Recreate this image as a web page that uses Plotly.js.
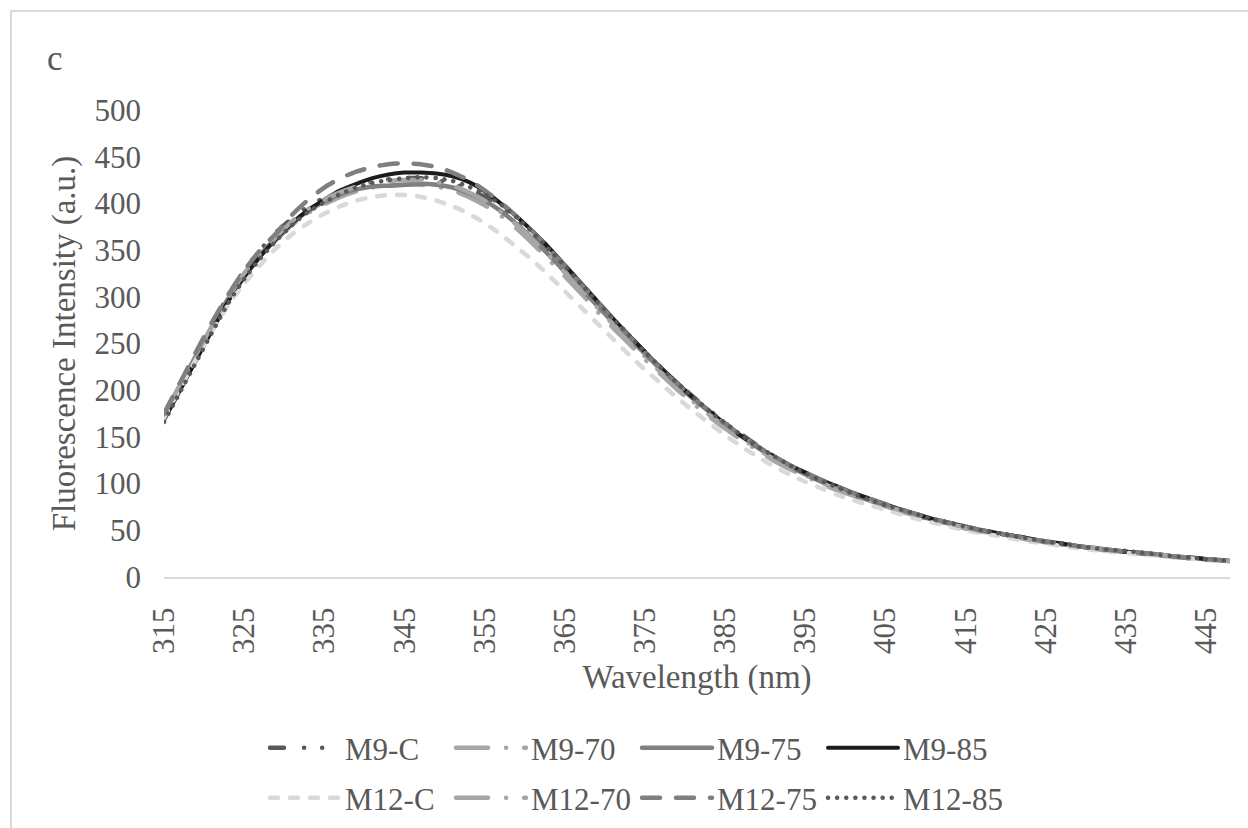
<!DOCTYPE html>
<html>
<head>
<meta charset="utf-8">
<script src="https://cdn.plot.ly/plotly-3.0.1.min.js"></script>
<style>
  html, body { margin: 0; padding: 0; background: #ffffff; overflow: hidden; }
  #wrap { position: relative; width: 1248px; height: 828px; }
  #chart { position: absolute; left: 0; top: 0; width: 1248px; height: 828px; }
  #frame { position: absolute; left: 10px; top: 10px; width: 1400px; height: 1000px;
           border-left: 2px solid #d9d9d9; border-top: 2px solid #d9d9d9; pointer-events: none; }
  .scatterlayer .js-line, .legendlines path { stroke-linecap: round; stroke-linejoin: round; }
</style>
</head>
<body>
<div id="wrap">
  <div id="chart"></div>
  <div id="frame"></div>
</div>
<script>
// Emission wavelength (nm)
const wavelength = [315,317,319,321,323,325,327,329,331,333,335,337,339,341,343,345,347,349,351,353,355,357,359,361,363,365,367,369,371,373,375,377,379,381,383,385,387,389,391,393,395,397,399,401,403,405,407,409,411,413,415,417,419,421,423,425,427,429,431,433,435,437,439,441,443,445,447,448];

const xTicks = [315,325,335,345,355,365,375,385,395,405,415,425,435,445];

// Fluorescence intensity (a.u.) per sample
const m9C  = [174,207,239,270,301,328,350,369,384,397,406,413,419,423,426,427,427,425,421,415,407,396,382,367,350,332,313,295,276,258,241,224,208,193,179,165,153,141,130,120,111,103,96,89,83,77,72,67,62,58,54,50,47,44,41,38,36,33,31,29,27,25,24,22,21,19,18,17];
const m9_70 = [172,204,236,267,297,322,343,361,377,390,399,407,413,417,419,420,420,418,414,407,398,387,373,357,340,322,304,285,267,250,233,217,201,186,172,159,147,136,125,116,108,100,93,87,81,75,70,65,60,56,52,49,46,43,40,37,35,33,30,28,27,25,23,22,20,19,17,17];
const m9_75 = [173,205,237,268,298,324,345,363,379,392,402,410,415,418,419,420,421,420,417,411,403,392,378,362,345,327,309,291,273,256,239,222,206,191,177,163,151,139,128,119,110,102,95,88,82,76,71,66,61,57,53,50,47,44,41,38,35,33,31,29,27,25,24,22,21,19,18,17];
const m9_85 = [168,200,232,264,295,321,343,362,379,393,404,414,421,427,431,433,433,432,429,423,413,400,386,370,353,334,315,296,277,259,241,224,208,192,178,164,151,140,129,120,112,104,97,90,84,78,72,67,62,58,54,50,47,44,41,38,36,33,31,29,27,26,24,22,21,19,18,17];
const m12C  = [170,202,233,263,291,314,334,352,367,379,389,397,403,407,409,409,407,403,397,389,379,367,353,339,323,306,289,272,255,238,222,207,192,178,165,152,140,129,119,110,102,95,88,82,77,72,67,62,58,54,50,47,44,41,38,36,33,31,29,27,26,24,23,21,20,18,17,16];
const m12_70 = [174,206,238,269,299,325,346,364,381,394,404,412,418,422,424,425,425,423,419,412,403,391,377,361,344,326,308,289,271,253,236,219,203,188,174,161,149,137,127,117,109,101,94,88,82,76,71,66,61,57,53,49,46,43,40,38,35,33,31,29,27,25,24,22,21,19,18,17];
const m12_75 = [175,208,241,273,302,328,350,368,388,404,417,427,434,439,442,443,442,439,433,425,414,401,386,370,352,333,314,295,276,258,240,223,207,192,178,164,152,140,130,120,112,104,97,90,84,78,72,67,62,58,54,50,47,44,41,38,36,33,31,29,27,26,24,22,20,19,18,17];
const m12_85 = [166,198,230,262,293,319,341,360,377,391,401,410,417,422,425,427,428,427,424,418,410,399,385,369,351,333,314,295,277,259,241,224,208,193,178,165,152,140,130,120,111,103,96,89,83,77,72,67,62,58,54,50,47,44,41,38,36,33,31,29,28,26,24,22,21,19,18,17];

const seriesNames = ['M9-C','M9-70','M9-75','M9-85','M12-C','M12-70','M12-75','M12-85'];
const seriesValues = [m9C, m9_70, m9_75, m9_85, m12C, m12_70, m12_75, m12_85];

const styles = [
  {color:'#595959', width:4.5, dash:'14px,20px,0.1px,18px,0.1px,20px', legend:'legend'},
  {color:'#a6a6a6', width:4.5, dash:'32px,18px,0.1px,18px', legend:'legend'},
  {color:'#808080', width:4.5, dash:'solid', legend:'legend'},
  {color:'#1c1c1c', width:4,   dash:'solid', legend:'legend'},
  {color:'#d9d9d9', width:4.5, dash:'8px,12px', legend:'legend2'},
  {color:'#a6a6a6', width:4.5, dash:'32px,18px,0.1px,18px', legend:'legend2'},
  {color:'#7f7f7f', width:4.5, dash:'18px,16px', legend:'legend2'},
  {color:'#595959', width:4.5, dash:'0.1px,9px', legend:'legend2'}
];

const FONT = 'Liberation Serif, Times New Roman, serif';
const TEXT = '#595959';

const traces = seriesNames.map((name, i) => ({
  type: 'scatter',
  mode: 'lines',
  name: name,
  x: wavelength,
  y: seriesValues[i],
  legend: styles[i].legend,
  line: {color: styles[i].color, width: styles[i].width, dash: styles[i].dash, shape: 'spline', smoothing: 0.6},
  hoverinfo: 'x+y+name'
}));

const legendCommon = {
  orientation: 'h',
  xref: 'container', yref: 'container',
  xanchor: 'left', yanchor: 'middle',
  bgcolor: 'rgba(0,0,0,0)',
  font: {family: FONT, size: 31, color: TEXT},
  entrywidth: 101, entrywidthmode: 'pixels',
  itemwidth: 70,
  traceorder: 'normal'
};

const layout = {
  width: 1248, height: 828,
  paper_bgcolor: '#ffffff', plot_bgcolor: '#ffffff',
  margin: {l: 164, r: 18, t: 110, b: 251, pad: 0},
  font: {family: FONT, size: 31, color: TEXT},
  title: {text: 'c', x: 47/1248, xref: 'container', xanchor: 'left',
          y: 1 - 58/828, yref: 'container', yanchor: 'middle',
          font: {family: FONT, size: 35, color: TEXT}},
  showlegend: true,
  legend: Object.assign({x: 265/1248, y: 1 - 748/828}, legendCommon),
  legend2: Object.assign({x: 265/1248, y: 1 - 798/828}, legendCommon),
  xaxis: {
    range: [315, 448],
    tickmode: 'array', tickvals: xTicks, ticktext: xTicks.map(String),
    tickangle: -90,
    ticks: '', showgrid: false, zeroline: false,
    showline: true, linecolor: '#d9d9d9', linewidth: 2,
    ticklabelstandoff: 16,
    automargin: true,
    tickfont: {family: FONT, size: 31, color: TEXT},
    title: {text: 'Wavelength (nm)', font: {family: FONT, size: 33, color: TEXT}, standoff: 12}
  },
  yaxis: {
    range: [0, 500], dtick: 50, tick0: 0,
    ticks: '', showgrid: false, zeroline: false, showline: false,
    ticklabelstandoff: 22,
    automargin: true,
    tickfont: {family: FONT, size: 31, color: TEXT},
    title: {text: 'Fluorescence Intensity (a.u.)', font: {family: FONT, size: 33, color: TEXT}, standoff: 8}
  }
};

Plotly.newPlot('chart', traces, layout, {displayModeBar: false, staticPlot: true});
</script>
</body>
</html>
